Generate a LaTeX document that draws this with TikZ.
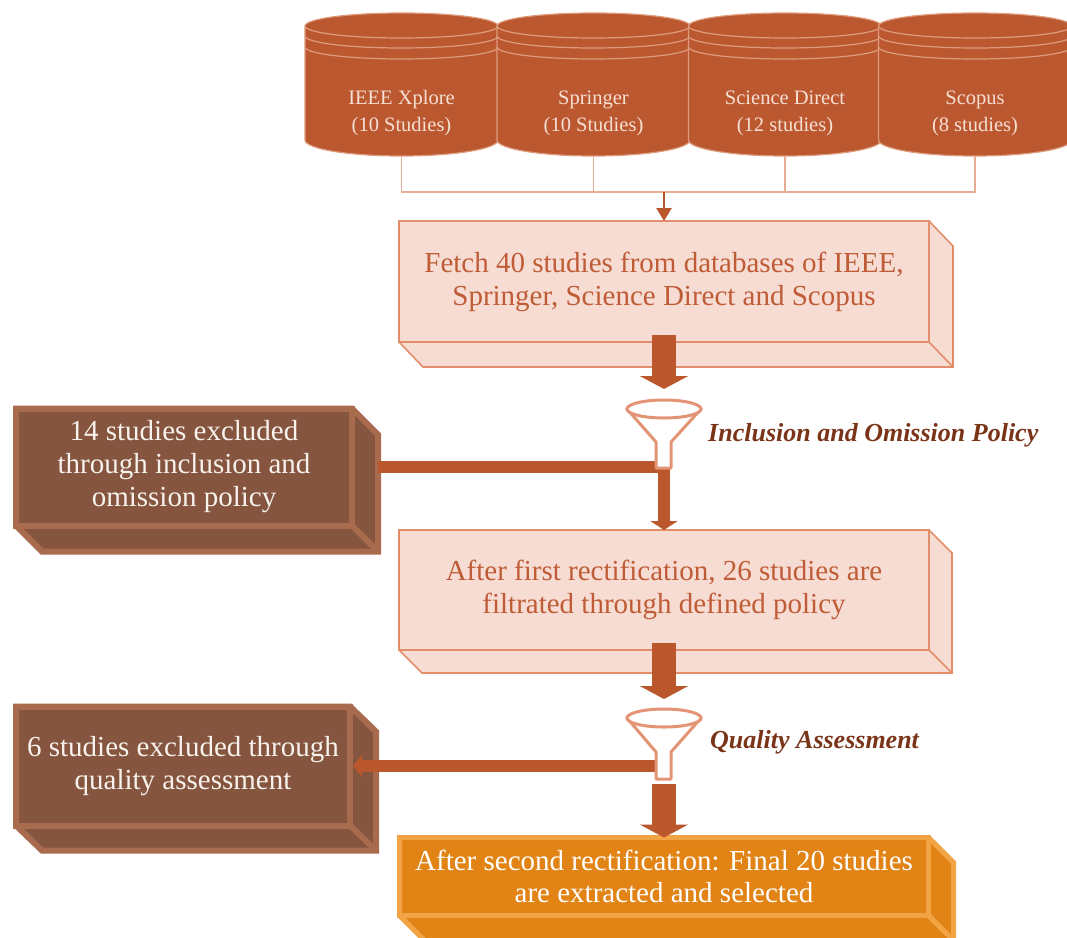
\documentclass[tikz,border=0pt]{standalone}
\usepackage{fontspec}
\setmainfont{Liberation Serif}
\usetikzlibrary{arrows.meta}
\definecolor{cylfill}{HTML}{BC5830}
\definecolor{cylline}{HTML}{DE9C7E}
\definecolor{cyltext}{HTML}{F6E0D4}
\definecolor{thinline}{HTML}{E8AE95}
\definecolor{arrowc}{HTML}{BA572D}
\definecolor{pinkfill}{HTML}{F6DCD3}
\definecolor{pinkline}{HTML}{E38E6A}
\definecolor{pinktext}{HTML}{BF5C36}
\definecolor{brownfill}{HTML}{86553F}
\definecolor{brownline}{HTML}{A86B4E}
\definecolor{lighttext}{HTML}{F7F2EC}
\definecolor{finalfill}{HTML}{E28315}
\definecolor{finalline}{HTML}{F2A445}
\definecolor{funnelc}{HTML}{E39475}
\definecolor{labelc}{HTML}{7A3418}
% #1 node, #2 dx, #3 dy, #4 fill colour, #5 line colour, #6 line width
\newcommand\extrude[6]{%
  \fill[#4] (#1.north east) -- ++(#2,#3) -- ([shift={(#2,#3)}]#1.south east)
    -- ([shift={(#2,#3)}]#1.south west) -- (#1.south west) -- (#1.south east) -- cycle;
  \draw[#5,line width=#6,line join=miter] (#1.north west) -- (#1.north east) -- ++(#2,#3)
    -- ([shift={(#2,#3)}]#1.south east) -- ([shift={(#2,#3)}]#1.south west)
    -- (#1.south west) -- cycle;
  \draw[#5,line width=#6,line join=miter] (#1.north east) -- (#1.south east) -- (#1.south west);
  \draw[#5,line width=#6] (#1.south east) -- ++(#2,#3);
}
\newcommand\dbcyl[3]{%
  \path[fill=cylfill,draw=cylline,line width=1.2pt]
    (#2-96.5,26) -- (#2-96.5,140) arc[start angle=180,end angle=0,x radius=96.5,y radius=16]
    -- (#2+96.5,26) arc[start angle=0,end angle=-180,x radius=96.5,y radius=13] -- cycle;
  \draw[cylline,line width=1.2pt] (#2-96.5,26) arc[start angle=180,end angle=0,x radius=96.5,y radius=12];
  \draw[cylline,line width=1.2pt] (#2-96.5,36) arc[start angle=180,end angle=0,x radius=96.5,y radius=12];
  \draw[cylline,line width=1.2pt] (#2-96.5,47) arc[start angle=180,end angle=0,x radius=96.5,y radius=12];
  \node[cyltxt] (#1) at (#2,113) {#3};
  \coordinate (#1b) at (#2,156);
}
\newcommand\funnelshape[5]{%
  \filldraw[funnelc,fill=white,line width=3pt,line join=round]
    (#2-37,#3) -- (#2-8,#4) -- (#2-8,#5) -- (#2+7,#5) -- (#2+7,#4) -- (#2+37,#3) -- cycle;
  \filldraw[funnelc,fill=white,line width=3pt] (#2,#3) ellipse[x radius=37,y radius=9];
  \coordinate (#1) at (#2,#3);
}
\begin{document}
\begin{tikzpicture}[x=1pt,y=-1pt,
  cyltxt/.style={text=cyltext,font=\fontsize{20.5}{27}\selectfont,align=center,inner sep=0},
  face/.style={align=center,inner sep=0,outer sep=0,line join=miter},
  pinkface/.style={face,draw=pinkline,fill=pinkfill,line width=1.6pt,text=pinktext,font=\fontsize{29}{33}\selectfont},
  brownface/.style={face,draw=brownline,fill=brownfill,line width=6pt,text=lighttext,font=\fontsize{29}{33}\selectfont},
  finalface/.style={face,draw=finalline,fill=finalfill,line width=5pt,text=white,font=\fontsize{29}{32}\selectfont},
  thin/.style={draw=thinline,line width=1.5pt},
  smallarr/.style={draw=arrowc,line width=2.5pt,-{Triangle[width=15pt,length=13pt]}},
  bigarr/.style={draw=arrowc,line width=24pt,-{Triangle[width=48pt,length=13pt]}},
  bararr/.style={draw=arrowc,line width=12pt,line join=miter},
  lab/.style={text=labelc,font=\fontsize{26}{30}\selectfont\bfseries\itshape,anchor=west,inner sep=0}
]
\useasboundingbox (0,0) rectangle (1067,937);
\fill[white] (0,0) rectangle (1067,937);

% databases
\dbcyl{db1}{401.5}{IEEE Xplore\\(10 Studies)}
\dbcyl{db2}{593.5}{Springer\\(10 Studies)}
\dbcyl{db3}{785}{Science Direct\\(12 studies)}
\dbcyl{db4}{975}{Scopus\\(8 studies)}

% boxes
\node[pinkface,minimum width=530,minimum height=121] (fetch) at (664,281.5)
  {Fetch 40 studies from databases of IEEE,\\Springer, Science Direct and Scopus};
\extrude{fetch}{24}{25}{pinkfill}{pinkline}{1.6pt}

\node[pinkface,minimum width=530,minimum height=120] (rect) at (664,590)
  {After first rectification, 26 studies are\\filtrated through defined policy};
\extrude{rect}{23}{23}{pinkfill}{pinkline}{1.6pt}

\node[brownface,minimum width=336,minimum height=117] (ex1) at (184,467)
  {14 studies excluded\\through inclusion and\\omission policy};
\extrude{ex1}{26}{26}{brownfill}{brownline}{6pt}

\node[brownface,minimum width=334,minimum height=119] (ex2) at (183,766)
  {6 studies excluded through\\quality assessment};
\extrude{ex2}{26}{25}{brownfill}{brownline}{6pt}

\node[finalface,minimum width=529,minimum height=78] (final) at (664,876.5)
  {After second rectification: Final 20 studies\\are extracted and selected};
\extrude{final}{25}{25}{finalfill}{finalline}{5pt}

% database connectors
\coordinate (join) at (664,192);
\draw[thin] (db1b) |- (join);
\draw[thin] (db2b) |- (join);
\draw[thin] (db3b) |- (join);
\draw[thin] (db4b) |- (join);
\draw[smallarr] (join) -- (fetch.north);

% coordinates for funnels
\coordinate (f1top) at (664,389);
\coordinate (f2top) at (664,699);
\coordinate (f2neck) at (664,784);
\coordinate (f2bar) at (662,766);

% thick arrows
\draw[bigarr] ([yshift=7pt]fetch.south) -- (f1top);
\draw[bigarr] ([yshift=7pt]rect.south) -- (f2top);
\draw[bigarr] (f2neck) -- (final.north);

% side bars
\draw[bararr,-{Triangle[width=27pt,length=9pt]}] ([xshift=26pt]ex1.east) -| (rect.north);
\draw[bararr,-{Triangle[width=22pt,length=9pt]}] (f2bar) -- ([xshift=3pt]ex2.east);

% funnels
\funnelshape{funnel1}{664}{409}{442}{468}
\funnelshape{funnel2}{664}{718}{752}{779}

% labels
\node[lab] (lab1) at (708,435) {Inclusion and Omission Policy};
\node[lab] (lab2) at (710,742) {Quality Assessment};
\end{tikzpicture}
\end{document}
